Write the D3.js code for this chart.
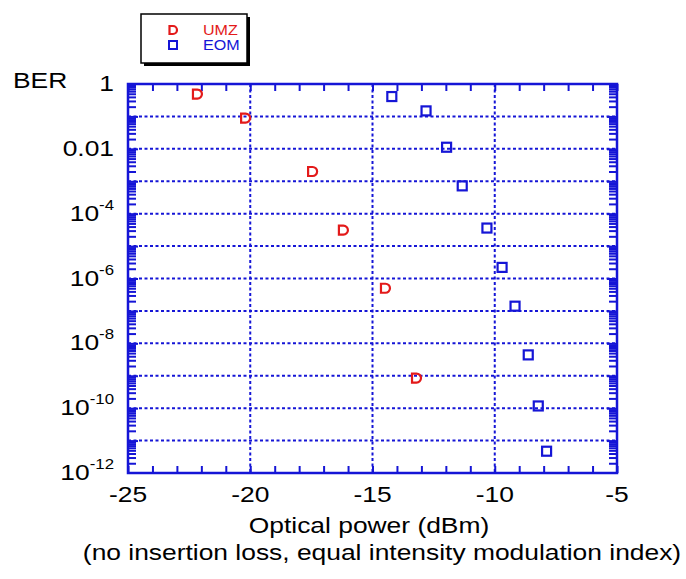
<!DOCTYPE html>
<html>
<head>
<meta charset="utf-8">
<script src="https://cdn.jsdelivr.net/npm/d3@7"></script>
<style>
  body { margin: 0; background: #fff; }
  text { font-family: "Liberation Sans", Arial, sans-serif; fill: #000; }
</style>
</head>
<body>
<div id="plot"></div>
<script>
// data
const umzPower = [-22.18, -20.21, -17.47, -16.21, -14.49, -13.22];
const umzBER = [4.9e-1, 8.9e-2, 2.0e-3, 3.1e-5, 5.0e-7, 8.5e-10];

const eomPower = [-14.21, -12.81, -11.97, -11.33, -10.32, -9.70, -9.17, -8.63, -8.22, -7.88];
const eomBER = [4.1e-1, 1.48e-1, 1.12e-2, 7.2e-4, 3.6e-5, 2.2e-6, 1.4e-7, 4.4e-9, 1.17e-10, 4.7e-12];

const xTicks = [-25, -20, -15, -10, -5];
const yTicks = [1, 1e-2, 1e-4, 1e-6, 1e-8, 1e-10, 1e-12];
const yTickBase = ["1", "0.01", "10", "10", "10", "10", "10"];
const yTickExp = ["", "", "-4", "-6", "-8", "-10", "-12"];

const seriesNames = ["UMZ", "EOM"];
const seriesColors = ["#e31a1a", "#1515d6"];

// Width and height
const w = 686;
const h = 579;
const margin = {top: 84, right: 69, bottom: 106, left: 128};
const innerWidth = w - margin.left - margin.right;
const innerHeight = h - margin.top - margin.bottom;
const blue = "#1515d6";
// the original text is a bit wider than Arial
const stretch = 1.2;

const svg = d3.select("div#plot")
  .append("svg")
    .attr("width", w)
    .attr("height", h);

const g = svg.append("g")
  .attr("transform", `translate(${margin.left}, ${margin.top})`);

const xScale = d3.scaleLinear()
  .domain([-25, -5])
  .range([0, innerWidth]);

const yScale = d3.scaleLog()
  .domain([1e-12, 1])
  .range([innerHeight, 0]);

// grid lines (every decade, every 5 dB)
const decades = d3.range(-11, 0).map(e => Math.pow(10, e));
g.append("g")
  .selectAll("line")
  .data(decades)
  .enter()
  .append("line")
    .attr("x1", 0)
    .attr("x2", innerWidth)
    .attr("y1", d => yScale(d))
    .attr("y2", d => yScale(d))
    .attr("stroke", blue)
    .attr("stroke-width", 2)
    .attr("stroke-dasharray", "3,2.5");

g.append("g")
  .selectAll("line")
  .data([-20, -15, -10])
  .enter()
  .append("line")
    .attr("x1", d => xScale(d))
    .attr("x2", d => xScale(d))
    .attr("y1", 0)
    .attr("y2", innerHeight)
    .attr("stroke", blue)
    .attr("stroke-width", 2)
    .attr("stroke-dasharray", "3,2.5");

// minor ticks
const minorX = d3.range(-25, -4, 1);
const minorY = [];
d3.range(-12, 0).forEach(e => {
  for (let m = 2; m <= 9; m++) minorY.push(m * Math.pow(10, e));
});

function styleAxis(sel) {
  sel.select(".domain").remove();
  sel.selectAll(".tick line").attr("stroke", blue).attr("stroke-width", 2);
  sel.selectAll(".tick text").remove();
}

g.append("g")
  .attr("transform", `translate(0, ${innerHeight})`)
  .call(d3.axisBottom(xScale).tickValues(minorX).tickSize(-7))
  .call(styleAxis);

g.append("g")
  .call(d3.axisTop(xScale).tickValues(minorX).tickSize(-7))
  .call(styleAxis);

g.append("g")
  .call(d3.axisLeft(yScale).tickValues(minorY).tickSize(-8))
  .call(styleAxis);

g.append("g")
  .attr("transform", `translate(${innerWidth}, 0)`)
  .call(d3.axisRight(yScale).tickValues(minorY).tickSize(-8))
  .call(styleAxis);

g.append("g")
  .call(d3.axisLeft(yScale).tickValues(decades).tickSize(-10))
  .call(styleAxis);

g.append("g")
  .attr("transform", `translate(${innerWidth}, 0)`)
  .call(d3.axisRight(yScale).tickValues(decades).tickSize(-10))
  .call(styleAxis);

// frame
g.append("rect")
  .attr("width", innerWidth)
  .attr("height", innerHeight)
  .attr("fill", "none")
  .attr("stroke", blue)
  .attr("stroke-width", 2.5);

// x tick labels
g.append("g")
  .selectAll("text")
  .data(xTicks)
  .enter()
  .append("text")
    .attr("transform", d => `translate(${xScale(d)}, ${innerHeight + 29}) scale(${stretch}, 1)`)
    .attr("text-anchor", "middle")
    .style("font-size", "22px")
    .text(d => d);

// y tick labels
const yLab = g.append("g")
  .selectAll("text")
  .data(yTicks)
  .enter()
  .append("text")
    .attr("transform", d => `translate(-14, ${yScale(d) + 7}) scale(${stretch}, 1)`)
    .attr("text-anchor", "end")
    .style("font-size", "22px");

yLab.append("tspan")
  .text((d, i) => yTickBase[i]);
yLab.append("tspan")
  .attr("dy", -11)
  .style("font-size", "14px")
  .text((d, i) => yTickExp[i]);

svg.append("text")
  .attr("transform", `translate(13, 88) scale(${stretch}, 1)`)
  .style("font-size", "22px")
  .text("BER");

// axis titles
svg.append("text")
  .attr("transform", `translate(369, 533) scale(${stretch}, 1)`)
  .attr("text-anchor", "middle")
  .style("font-size", "22px")
  .text("Optical power (dBm)");

svg.append("text")
  .attr("transform", `translate(382, 560) scale(${stretch}, 1)`)
  .attr("text-anchor", "middle")
  .style("font-size", "22px")
  .text("(no insertion loss, equal intensity modulation index)");

// markers
const dShape = "M-4,-4.5 L0.5,-4.5 A4.5,4.5 0 0 1 0.5,4.5 L-4,4.5 Z";

const umz = umzPower.map((p, i) => [p, umzBER[i]]);
const eom = eomPower.map((p, i) => [p, eomBER[i]]);

g.append("g")
  .selectAll("path")
  .data(umz)
  .enter()
  .append("path")
    .attr("transform", d => `translate(${xScale(d[0])}, ${yScale(d[1])})`)
    .attr("d", dShape)
    .attr("fill", "none")
    .attr("stroke", seriesColors[0])
    .attr("stroke-width", 2.2);

g.append("g")
  .selectAll("rect")
  .data(eom)
  .enter()
  .append("rect")
    .attr("x", d => xScale(d[0]) - 4.5)
    .attr("y", d => yScale(d[1]) - 4.5)
    .attr("width", 9)
    .attr("height", 9)
    .attr("fill", "none")
    .attr("stroke", seriesColors[1])
    .attr("stroke-width", 2.2);

// legend
const legend = svg.append("g")
  .attr("transform", "translate(141, 14)");

legend.append("rect")
  .attr("x", 3)
  .attr("y", 3)
  .attr("width", 106)
  .attr("height", 49)
  .attr("fill", "#000");

legend.append("rect")
  .attr("width", 106)
  .attr("height", 49)
  .attr("fill", "#fff")
  .attr("stroke", "#000")
  .attr("stroke-width", 1.5);

legend.append("path")
  .attr("transform", "translate(32, 16)")
  .attr("d", "M-3.5,-4 L0,-4 A4,4 0 0 1 0,4 L-3.5,4 Z")
  .attr("fill", "none")
  .attr("stroke", seriesColors[0])
  .attr("stroke-width", 2.2);

legend.append("rect")
  .attr("x", 28)
  .attr("y", 27)
  .attr("width", 8)
  .attr("height", 8)
  .attr("fill", "none")
  .attr("stroke", seriesColors[1])
  .attr("stroke-width", 2);

legend.selectAll("text.leg")
  .data(seriesNames)
  .enter()
  .append("text")
    .attr("class", "leg")
    .attr("transform", (d, i) => `translate(62, ${21 + i * 15}) scale(1.15, 1)`)
    .style("font-size", "14px")
    .style("fill", (d, i) => seriesColors[i])
    .text(d => d);
</script>
</body>
</html>
